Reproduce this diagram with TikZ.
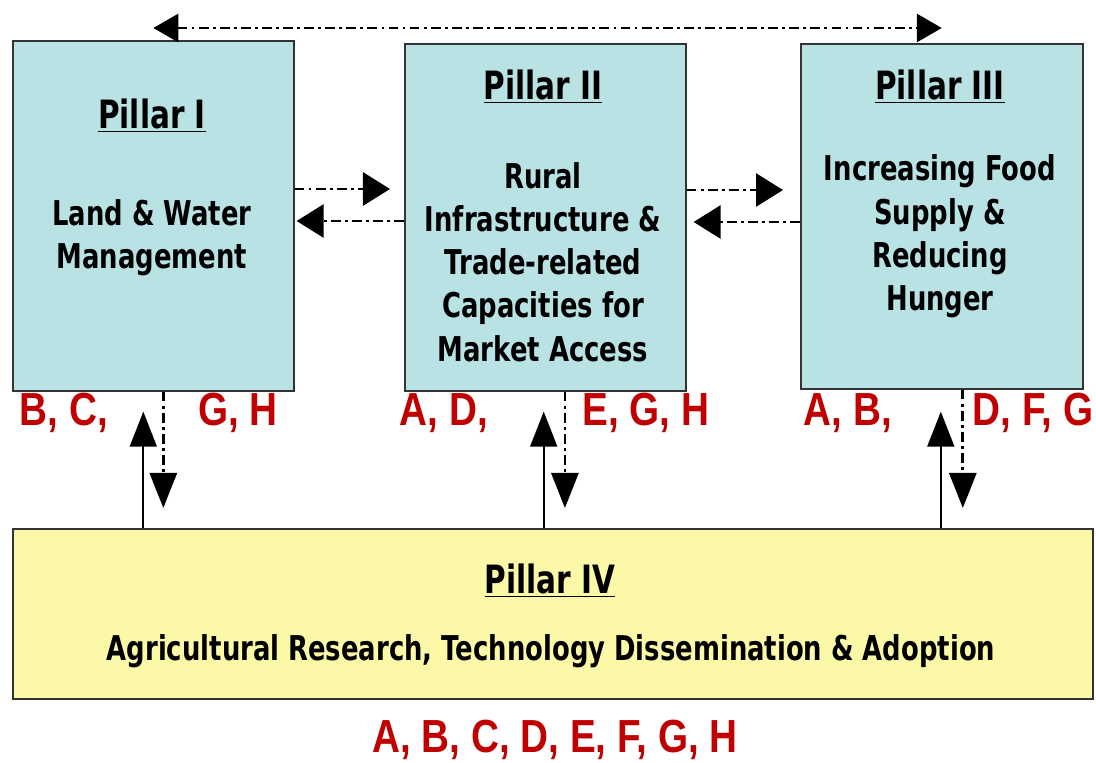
\documentclass[tikz,border=0pt]{standalone}
\usepackage{fontspec}
\setmainfont{DejaVu Sans}
\newfontfamily\letterfont{Liberation Sans}
\usepackage{graphicx}
\usepackage{xcolor}
\usepackage{tikz}
\usetikzlibrary{positioning, arrows.meta, calc}

\definecolor{pillarcyan}{HTML}{B9E2E4}
\definecolor{pillaryellow}{HTML}{FBF8A8}
\definecolor{letterred}{HTML}{C00000}
\newcommand{\tallstack}[1]{\scalebox{1}[1.32]{\begin{tabular}{@{}c@{}}#1\end{tabular}}}

\begin{document}
\begin{tikzpicture}[
    x=0.025cm, y=-0.025cm,
    pillarbox/.style={rectangle, draw=black!80, line width=1.1pt, fill=pillarcyan, anchor=north west, inner sep=0pt},
    titletext/.style={font=\fontsize{21}{25}\selectfont\bfseries},
    bodytext/.style={font=\fontsize{18.4}{23.3}\selectfont\bfseries},
    lettertext/.style={font=\fontsize{27.5}{32}\selectfont\letterfont\bfseries, text=letterred},
    dashdot/.style={line width=2pt, dash pattern=on 7pt off 3pt on 2pt off 3pt},
    sidearrow/.style={dashdot, -{Triangle[length=0.675cm, width=0.825cm]}},
    uparrow/.style={line width=1.2pt, -{Triangle[length=0.875cm, width=0.675cm]}, shorten >=0.5cm},
    downarrow/.style={dashdot, -{Triangle[length=0.875cm, width=0.675cm]}, shorten >=0.5cm},
]
\useasboundingbox (0,0) rectangle (1096,762);

\node[pillarbox, minimum width=7.025cm, minimum height=8.75cm](p1) at (12,40){};
\node[pillarbox, minimum width=7.025cm, minimum height=8.675cm](p2) at (404,43){};
\node[pillarbox, minimum width=7.05cm, minimum height=8.625cm](p3) at (800,43){};
\node[pillarbox, fill=pillaryellow, minimum width=27cm, minimum height=4.25cm](p4) at (12,528){};

\node[titletext](p1title) at (152,119){\tallstack{\underline{Pillar I}}};
\node[bodytext](p1body) at (152,238){\tallstack{Land \& Water\\Management}};
\node[titletext](p2title) at (543,90){\tallstack{\underline{Pillar II}}};
\node[bodytext](p2body) at (543,266){\tallstack{Rural\\Infrastructure \&\\Trade-related\\Capacities for\\Market Access}};
\node[titletext](p3title) at (940,90){\tallstack{\underline{Pillar III}}};
\node[bodytext](p3body) at (940,237){\tallstack{Increasing Food\\Supply \&\\Reducing\\Hunger}};
\node[titletext](p4title) at (550,584){\tallstack{\underline{Pillar IV}}};
\node[bodytext](p4body) at (551,652){\tallstack{Agricultural Research, Technology Dissemination \& Adoption}};

\node[lettertext](l1a) at (64,413){\scalebox{1}[1.2]{B, C,}};
\node[lettertext](l1b) at (238,413){\scalebox{1}[1.2]{G, H}};
\node[lettertext](l2a) at (444,413){\scalebox{1}[1.2]{A, D,}};
\node[lettertext](l2b) at (646,413){\scalebox{1}[1.2]{E, G, H}};
\node[lettertext](l3a) at (848,413){\scalebox{1}[1.2]{A, B,}};
\node[lettertext](l3b) at (1033,413){\scalebox{1}[1.2]{D, F, G}};
\node[lettertext](l4) at (555,740){\scalebox{1}[1.2]{A, B, C, D, E, F, G, H}};

\coordinate (top1) at ($(p1.north)+(0,-12)$);
\coordinate (top3) at ($(p3.north)+(0,-15)$);
\draw[dashdot, {Triangle[length=0.625cm, width=0.7cm]}-{Triangle[length=0.625cm, width=0.7cm]}] (top1) -- (top3);

\draw[sidearrow, shorten >=0.35cm] (p1.east |- 0,189) -- (p2.west |- 0,189);
\draw[sidearrow, shorten >=0.05cm] (p2.west |- 0,221) -- (p1.east |- 0,221);
\draw[sidearrow, shorten >=0.425cm] (p2.east |- 0,190) -- (p3.west |- 0,190);
\draw[sidearrow, shorten >=0.175cm] (p3.west |- 0,222) -- (p2.east |- 0,222);

\coordinate (u1) at ([xshift=-0.25cm]p1.south);
\coordinate (d1) at ([xshift=0.25cm]p1.south);
\coordinate (u2) at ([xshift=-0.04cm]p2.south);
\coordinate (d2) at ([xshift=0.49cm]p2.south);
\coordinate (u3) at ([xshift=-0.025cm]p3.south);
\coordinate (d3) at ([xshift=0.525cm]p3.south);

\draw[uparrow] (p4.north -| u1) -- (u1);
\draw[downarrow] (d1) -- (p4.north -| d1);
\draw[uparrow] (p4.north -| u2) -- (u2);
\draw[downarrow] (d2) -- (p4.north -| d2);
\draw[uparrow, shorten >=0.55cm] (p4.north -| u3) -- (u3);
\draw[downarrow] (d3) -- (p4.north -| d3);
\end{tikzpicture}
\end{document}
